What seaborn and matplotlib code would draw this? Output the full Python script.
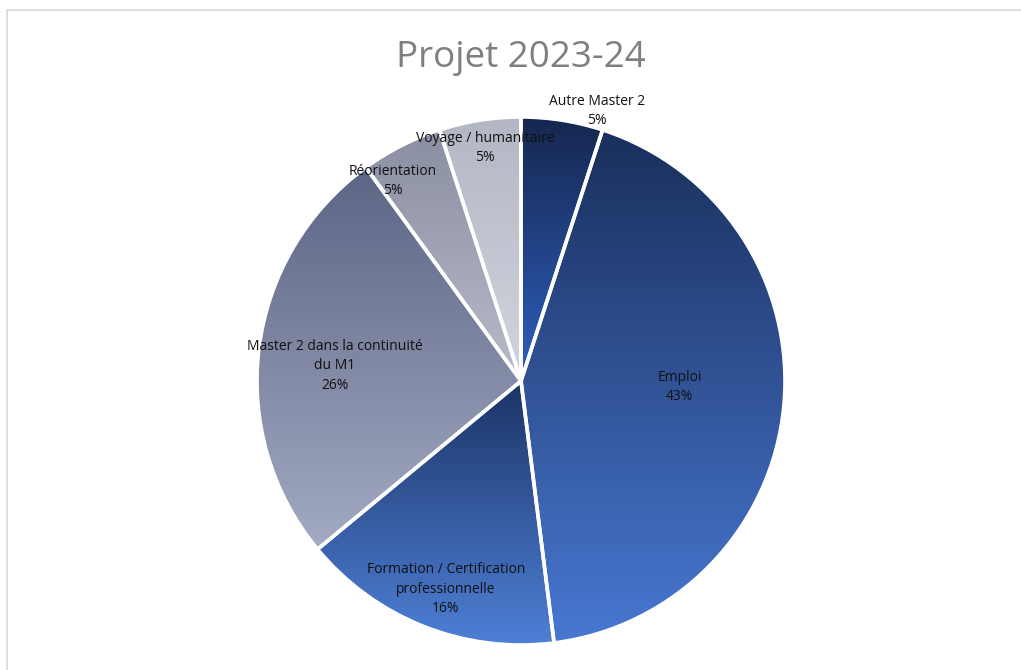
import numpy as np
import matplotlib
matplotlib.use("Agg")
import matplotlib.pyplot as plt
from matplotlib.colors import LinearSegmentedColormap
from matplotlib.lines import Line2D
import seaborn as sns

# Parcours envisagés après le M1 (en %)
categories = [
    "Autre Master 2",
    "Emploi",
    "Formation / Certification\nprofessionnelle",
    "Master 2 dans la continuité\ndu M1",
    "Réorientation",
    "Voyage / humanitaire",
]
shares = [5, 43, 16, 26, 5, 5]
title = "Projet 2023-24"

# Dégradés verticaux (haut, bas) de chaque part
gradients = [
    ("#15274f", "#2f5fbe"),
    ("#1a2f5c", "#4878d2"),
    ("#1c3466", "#4e80d7"),
    ("#5c6585", "#a3aac2"),
    ("#8a8ea2", "#b8bbc9"),
    ("#b3b6c4", "#d3d5dd"),
]
# Position des étiquettes (en rayons, relatives au centre)
label_pos = [
    (0.288, 1.023),
    (0.602, -0.023),
    (-0.284, -0.788),
    (-0.705, 0.057),
    (-0.485, 0.758),
    (-0.136, 0.883),
]

sns.set_theme(style="white")
plt.rcParams["font.family"] = ["Open Sans", "DejaVu Sans"]

W, H = 1021, 670
fig = plt.figure(figsize=(W / 100, H / 100), dpi=100)
fig.patch.set_facecolor("white")
ax = fig.add_axes([0, 0, 1, 1])

cx, cy, R = 521, H - 381, 264
wedges, _ = ax.pie(
    shares,
    startangle=90,
    counterclock=False,
    center=(cx, cy),
    radius=R,
    wedgeprops=dict(edgecolor="white", linewidth=2.6),
)
ax.set_xlim(0, W)
ax.set_ylim(0, H)
ax.set_aspect("equal", adjustable="box")
ax.axis("off")

ramp = np.linspace(1, 0, 256).reshape(-1, 1)
for w, (top, bottom) in zip(wedges, gradients):
    th = np.radians(np.linspace(w.theta1, w.theta2, 400))
    ys = np.concatenate([[cy], cy + R * np.sin(th)])
    cmap = LinearSegmentedColormap.from_list("g", [bottom, top])
    img = ax.imshow(
        ramp,
        cmap=cmap,
        extent=(cx - R, cx + R, ys.min(), ys.max()),
        origin="upper",
        aspect="auto",
        interpolation="bilinear",
        zorder=1,
    )
    img.set_clip_path(w)
    w.set_facecolor("none")
    w.set_zorder(3)

ax.set_xlim(0, W)
ax.set_ylim(0, H)

for name, pct, (lx, ly) in zip(categories, shares, label_pos):
    ax.text(
        cx + lx * R,
        cy + ly * R,
        f"{name}\n{pct}%",
        ha="center",
        va="center",
        fontsize=10,
        color="#111111",
        linespacing=1.4,
        zorder=5,
    )

fig.text(521 / W, 1 - 58 / H, title, ha="center", va="center",
         fontsize=26.5, color="#7f7f7f")

# Cadre de la zone du graphique
fig.add_artist(Line2D([7 / W, 1], [1 - 10 / H, 1 - 10 / H],
                      transform=fig.transFigure, color="#d9d9d9", lw=1.2))
fig.add_artist(Line2D([7 / W, 7 / W], [0, 1 - 10 / H],
                      transform=fig.transFigure, color="#d9d9d9", lw=1.2))

fig.savefig("out.png", dpi=100)
